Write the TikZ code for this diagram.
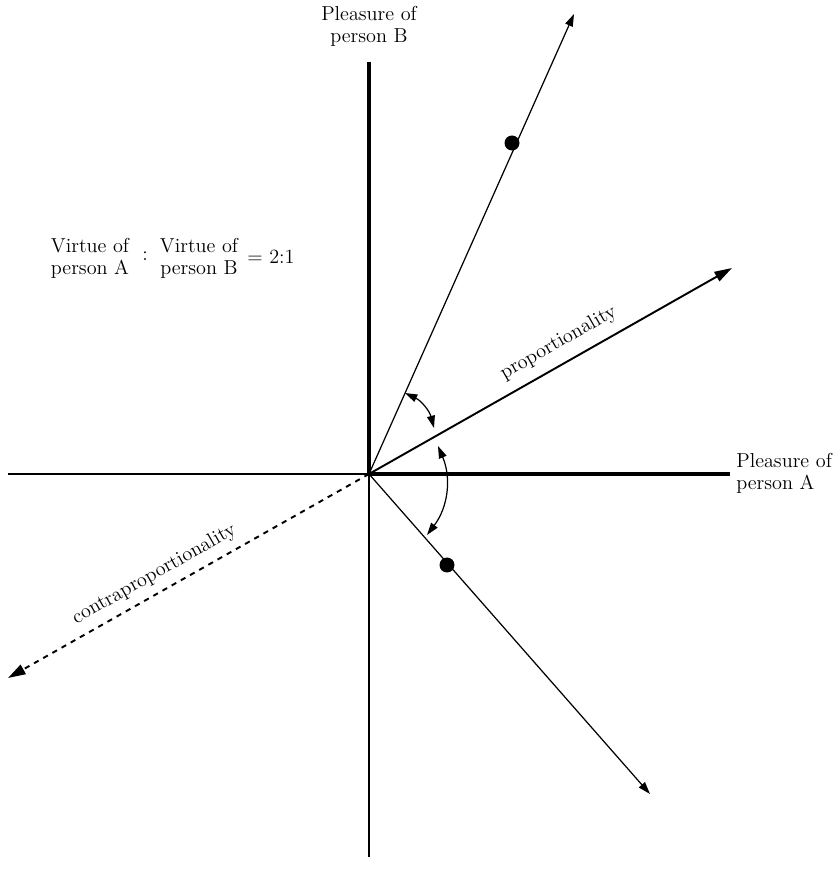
\documentclass[tikz,border=0pt]{standalone}
\usetikzlibrary{arrows.meta}

\begin{document}
\begin{tikzpicture}[x=0.02cm, y=0.02cm,
    thinline/.style={line width=0.7pt},
    axisthick/.style={line width=1.8pt},
    raythick/.style={line width=1.1pt},
    lbl/.style={font=\fontsize{11.5}{12.5}\selectfont, align=center, inner sep=0pt},
    smalltip/.style={-{Triangle[length=7pt, width=4.5pt]}},
    bigtip/.style={-{Triangle[length=10pt, width=6pt]}},
    dot/.style={circle, fill=black, inner sep=0pt, minimum size=0.3cm}]

\useasboundingbox (0,0) rectangle (838,887);

% ---- Axes ----
\coordinate (O) at (369,413);
\coordinate (Btop) at (369,825);
\coordinate (Bbot) at (369,30);
\coordinate (Aleft) at (8,413);
\coordinate (Aright) at (730,413);

\draw[thinline] (Aleft) -- (O) -- (Bbot);
\draw[axisthick] (Btop) -- (O) -- (Aright);

\node[lbl] (labelB) at (369,861) {Pleasure of\\person B};
\node[lbl, anchor=west, align=left] (labelA) at (736,414) {Pleasure of\\person A};

% ---- Rays from the origin ----
\coordinate (P) at (732,619);
\coordinate (C) at (8,209);
\coordinate (U) at (574,873);
\coordinate (L) at (650,93);

\draw[raythick, bigtip] (O) -- (P)
    node[lbl, pos=0.55, sloped, above=6pt] (prop) {proportionality};
\draw[raythick, dashed, bigtip] (O) -- (C);
\path (C) -- (O)
    node[lbl, pos=0.43, sloped, above=5pt] (contra) {contraproportionality};
\draw[thinline, smalltip] (O) -- (U);
\draw[thinline, smalltip] (O) -- (L);

% Points on the rays
\node[dot] (dotU) at (512,744) {};
\node[dot] (dotL) at (447,322) {};

% ---- Angle arcs ----
\coordinate (a1) at (405,494);
\coordinate (a2) at (434,459);
\coordinate (b1) at (438,441);
\coordinate (b2) at (427,352);
\draw[thinline, {Triangle[length=7pt, width=4.5pt]}-{Triangle[length=7pt, width=4.5pt]}]
    (a1) to[bend left=25] (a2);
\draw[thinline, {Triangle[length=7pt, width=4.5pt]}-{Triangle[length=7pt, width=4.5pt]}]
    (b1) to[bend left=30] (b2);

% Ratio of virtue
\node[lbl] (virtueA) at (90,629) {Virtue of\\person A};
\node[lbl] (colon) at (145,631) {:};
\node[lbl] (virtueB) at (199,629) {Virtue of\\person B};
\node[lbl, anchor=west] (ratio) at (247,630) {= 2:1};

\end{tikzpicture}
\end{document}
